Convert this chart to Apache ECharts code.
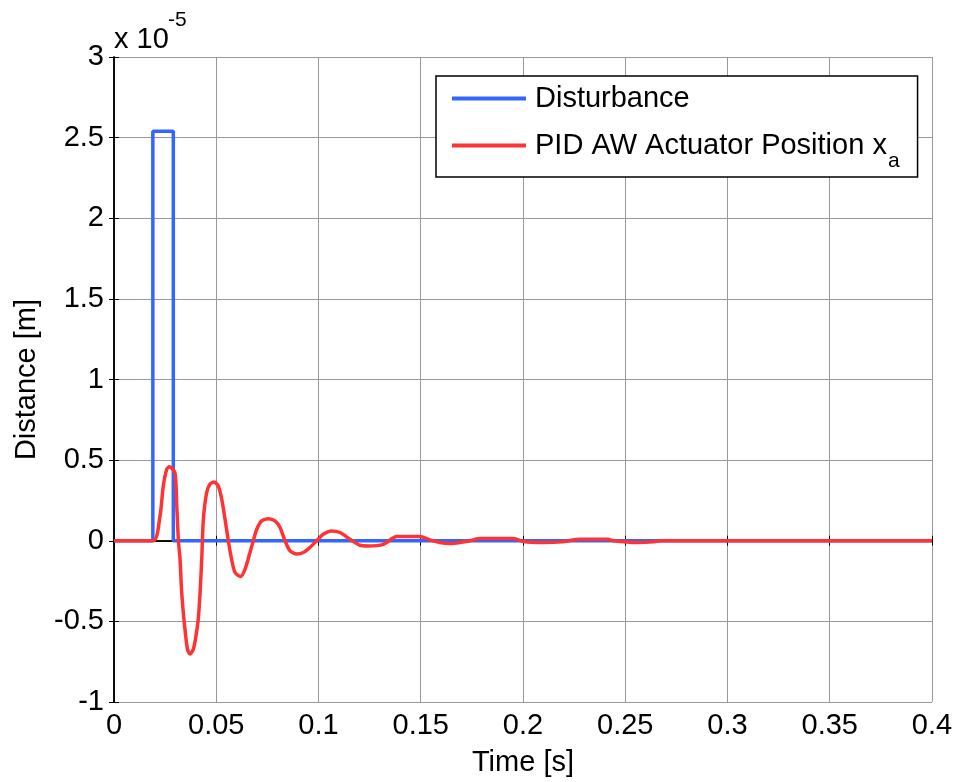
<!DOCTYPE html>
<html>
<head>
<meta charset="utf-8">
<script src="https://cdn.jsdelivr.net/npm/echarts@6/dist/echarts.min.js"></script>
<style>
  html, body { margin: 0; padding: 0; background: #fff; }
  #main { width: 956px; height: 782px; }
</style>
</head>
<body>
<div id="main"></div>
<script>
// values in units of 1e-5 m, time in s
var distTime = [0, 0.019, 0.019, 0.029, 0.029, 0.4];
var distVal  = [0, 0, 2.54, 2.54, 0, 0];

var posTime = [0, 0.0192, 0.0225, 0.0241, 0.0258, 0.0271, 0.0298, 0.0307, 0.0315, 0.0323, 0.0331, 0.0342,
  0.0359, 0.0372, 0.0388, 0.0401, 0.0412, 0.0421, 0.0429, 0.0437, 0.0453, 0.0469, 0.0489, 0.0510, 0.0527,
  0.0543, 0.0559, 0.0575, 0.0592, 0.0619, 0.0641, 0.0665, 0.0681, 0.0698, 0.0722, 0.0755, 0.0787, 0.0812,
  0.0836, 0.0861, 0.0893, 0.0926, 0.0958, 0.0991, 0.1023, 0.1064, 0.1105, 0.1154, 0.1203, 0.1244, 0.1317,
  0.1382, 0.1431, 0.1496, 0.1545, 0.1594, 0.1643, 0.1692, 0.1741, 0.1790, 0.1871, 0.1953, 0.2002, 0.2100,
  0.2189, 0.2279, 0.2417, 0.2442, 0.2556, 0.2637, 0.2670, 0.4];
var posVal = [0, 0, 0.154, 0.339, 0.443, 0.459, 0.422, 0.216, 0, -0.115, -0.321, -0.486,
  -0.672, -0.703, -0.672, -0.589, -0.486, -0.321, -0.115, 0.133, 0.298, 0.350, 0.364, 0.339, 0.257,
  0.133, 0, -0.115, -0.197, -0.222, -0.176, -0.073, 0, 0.071, 0.123, 0.137, 0.123, 0.082,
  0, -0.063, -0.082, -0.073, -0.042, 0, 0.040, 0.061, 0.051, 0.009, -0.028, -0.032, -0.022,
  0.026, 0.026, 0.026, 0.005, -0.011, -0.017, -0.011, 0, 0.014, 0.014, 0.014, -0.005, -0.011,
  -0.007, 0.009, 0.009, 0, -0.011, -0.007, 0, 0];

var xTicks = { min: 0, max: 0.4, interval: 0.05 };
var yTicks = { min: -1, max: 3, interval: 0.5 };

var FONT = '"Liberation Sans", Arial, sans-serif';

function pairs(xs, ys) {
  var out = [];
  for (var i = 0; i < xs.length; i++) out.push([xs[i], ys[i]]);
  return out;
}

var myChart = echarts.init(document.getElementById('main'));

var axisLine = { show: true, lineStyle: { color: '#000', width: 1.5 } };
var tick = { show: true, inside: true, length: 5, lineStyle: { color: '#000' } };

var option = {
  backgroundColor: '#fff',
  animation: false,
  grid: { left: 114, right: 24, top: 57, bottom: 79, containLabel: false },
  xAxis: [{
    type: 'value', min: xTicks.min, max: xTicks.max, interval: xTicks.interval,
    name: 'Time [s]', nameLocation: 'middle', nameGap: 46,
    nameTextStyle: { fontSize: 29, fontFamily: FONT, color: '#000' },
    axisLine: axisLine, axisTick: tick,
    axisLabel: { fontSize: 29, fontFamily: FONT, color: '#000', margin: 9,
      formatter: function (v) { return String(+v.toFixed(2)); } },
    splitLine: { show: true, lineStyle: { color: '#999', width: 1 } }
  }, {
    type: 'value', position: 'top', min: xTicks.min, max: xTicks.max, interval: xTicks.interval,
    axisLine: axisLine, axisTick: tick, axisLabel: { show: false }, splitLine: { show: false }
  }],
  yAxis: [{
    type: 'value', min: yTicks.min, max: yTicks.max, interval: yTicks.interval,
    name: 'Distance [m]', nameLocation: 'middle', nameGap: 73,
    nameTextStyle: { fontSize: 29, fontFamily: FONT, color: '#000' },
    axisLine: axisLine, axisTick: tick,
    axisLabel: { fontSize: 29, fontFamily: FONT, color: '#000', margin: 10, padding: [6, 0, 0, 0] },
    splitLine: { show: true, lineStyle: { color: '#999', width: 1 } }
  }, {
    type: 'value', position: 'right', min: yTicks.min, max: yTicks.max, interval: yTicks.interval,
    axisLine: axisLine, axisTick: tick, axisLabel: { show: false }, splitLine: { show: false }
  }],
  legend: {
    orient: 'vertical', left: 436, top: 76,
    padding: [8, 18, 5, 16], itemGap: 18,
    backgroundColor: '#fff', borderColor: '#000', borderWidth: 1.5,
    itemWidth: 74, itemHeight: 4, icon: 'rect',
    data: ['Disturbance', 'PID AW Actuator Position xa'],
    formatter: function (name) {
      return name === 'Disturbance' ? name : 'PID AW Actuator Position x{sub|a}';
    },
    textStyle: {
      fontSize: 29, fontFamily: FONT, color: '#000', padding: [0, 0, 0, 4],
      rich: { sub: { fontSize: 21, fontFamily: FONT, color: '#000', verticalAlign: 'bottom', padding: [32, 0, 0, 1] } }
    }
  },
  graphic: [
    { type: 'text', left: 114, top: 25, style: { text: 'x 10', fontSize: 29, fontFamily: FONT, fill: '#000' } },
    { type: 'text', left: 168, top: 10, style: { text: '-5', fontSize: 21, fontFamily: FONT, fill: '#000' } }
  ],
  series: [{
    name: 'Disturbance', type: 'line', showSymbol: false, symbol: 'none',
    data: pairs(distTime, distVal),
    lineStyle: { color: '#3366ff', width: 3.5 }, itemStyle: { color: '#3366ff' }, z: 2
  }, {
    name: 'PID AW Actuator Position xa', type: 'line', showSymbol: false, symbol: 'none',
    smooth: 0.25,
    data: pairs(posTime, posVal),
    lineStyle: { color: '#ff3333', width: 3.5 }, itemStyle: { color: '#ff3333' }, z: 3
  }]
};

myChart.setOption(option);
</script>
</body>
</html>
